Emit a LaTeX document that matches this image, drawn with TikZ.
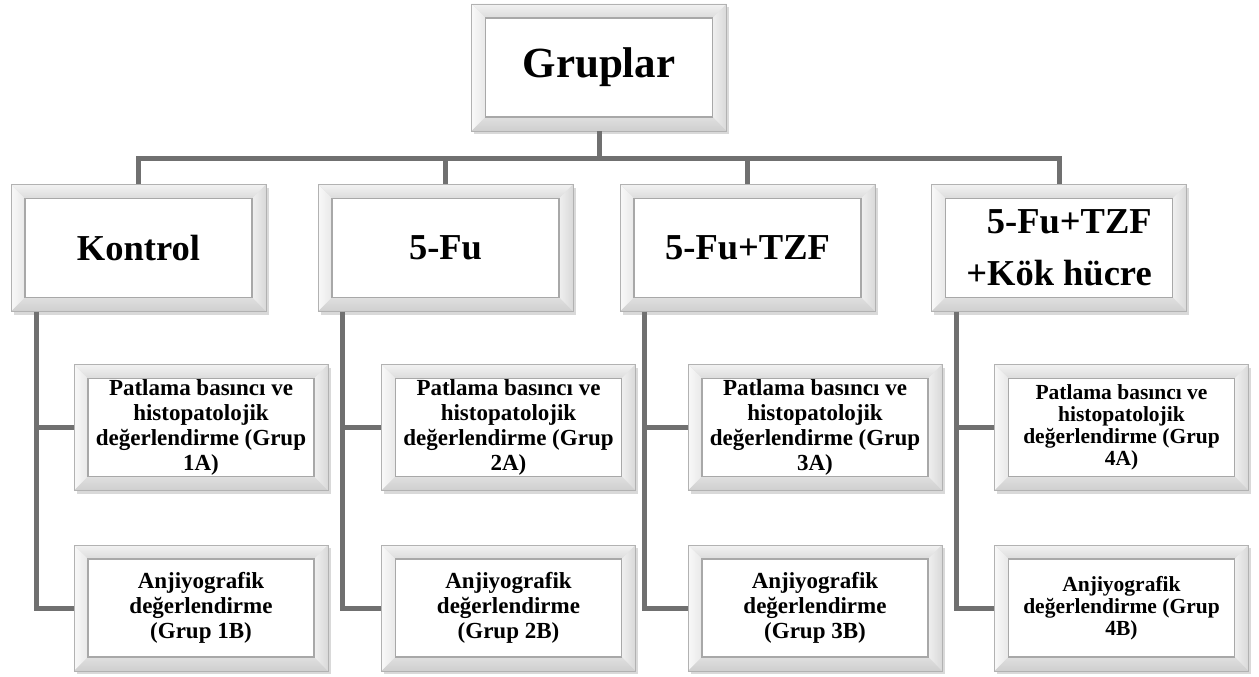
\documentclass[tikz,border=0pt]{standalone}
\usepackage{fontspec}
\setmainfont{Liberation Serif}
\usetikzlibrary{shadows}
\definecolor{linkgray}{RGB}{112,112,112}
\tikzset{
    bevelbox/.style={rectangle, draw=gray!60, line width=0.8pt, fill=gray!22,
        minimum width=255pt, minimum height=127pt, inner sep=0pt, align=center,
        drop shadow={shadow xshift=2.5pt, shadow yshift=-3pt, opacity=0.3},
        path picture={
            \path (path picture bounding box.north west) coordinate (A)
                  (path picture bounding box.north east) coordinate (B)
                  (path picture bounding box.south east) coordinate (C)
                  (path picture bounding box.south west) coordinate (D);
            \path ([shift={(14pt,-14pt)}]A) coordinate (a)
                  ([shift={(-14pt,-14pt)}]B) coordinate (b)
                  ([shift={(-14pt,14pt)}]C) coordinate (c)
                  ([shift={(14pt,14pt)}]D) coordinate (d);
            \fill[top color=gray!10, bottom color=gray!28] (A) -- (B) -- (b) -- (a) -- cycle;
            \fill[left color=gray!5, right color=gray!18] (D) -- (A) -- (a) -- (d) -- cycle;
            \fill[left color=gray!12, right color=gray!30] (B) -- (C) -- (c) -- (b) -- cycle;
            \fill[top color=gray!25, bottom color=gray!38] (C) -- (D) -- (d) -- (c) -- cycle;
            \filldraw[fill=white, draw=gray!68, line width=1.6pt] (a) rectangle (c);
        }},
    topbox/.style={bevelbox, font=\bfseries\fontsize{43}{46}\selectfont},
    grpbox/.style={bevelbox, font=\bfseries\fontsize{36.5}{52}\selectfont},
    subbox/.style={bevelbox, minimum width=254pt, minimum height=126pt,
        font=\bfseries\fontsize{23}{25}\selectfont},
    smallsub/.style={subbox, font=\bfseries\fontsize{21.5}{22}\selectfont},
    link/.style={draw=linkgray, line width=5pt},
}
\begin{document}
\begin{tikzpicture}[x=1pt, y=-1pt]
\useasboundingbox (0,0) rectangle (1259,677);
% top
\node[topbox] (root) at (599,67.5) {Gruplar};
% groups
\node[grpbox] (g1) at (138.5,248) {Kontrol};
\node[grpbox] (g2) at (445.5,248) {5-Fu};
\node[grpbox] (g3) at (747.5,248) {5-Fu+TZF};
\node[grpbox, align=right] (g4) at (1059,248) {5-Fu+TZF\\+Kök hücre};
% sub groups
\node[subbox] (g1a) at (201,427.5) {Patlama basıncı ve\\histopatolojik\\değerlendirme (Grup\\1A)};
\node[subbox] (g1b) at (201,608) {Anjiyografik\\değerlendirme\\(Grup 1B)};
\node[subbox] (g2a) at (508.5,427.5) {Patlama basıncı ve\\histopatolojik\\değerlendirme (Grup\\2A)};
\node[subbox] (g2b) at (508.5,608) {Anjiyografik\\değerlendirme\\(Grup 2B)};
\node[subbox] (g3a) at (815,427.5) {Patlama basıncı ve\\histopatolojik\\değerlendirme (Grup\\3A)};
\node[subbox] (g3b) at (815,608) {Anjiyografik\\değerlendirme\\(Grup 3B)};
\node[smallsub] (g4a) at (1121.5,427.5) {Patlama basıncı ve\\histopatolojik\\değerlendirme (Grup\\4A)};
\node[smallsub] (g4b) at (1121.5,608) {Anjiyografik\\değerlendirme (Grup\\4B)};
% connectors
\draw[link] (root.south) -- ++(0,-27pt) -| (g1.north);
\draw[link] (root.south) -- ++(0,-27pt) -| (g2.north);
\draw[link] (root.south) -- ++(0,-27pt) -| (g3.north);
\draw[link] (root.south) -- ++(0,-27pt) -| (g4.north);
\draw[link] ([xshift=26pt]g1.south west) |- (g1a.west);
\draw[link] ([xshift=26pt]g1.south west) |- (g1b.west);
\draw[link] ([xshift=25pt]g2.south west) |- (g2a.west);
\draw[link] ([xshift=25pt]g2.south west) |- (g2b.west);
\draw[link] ([xshift=25pt]g3.south west) |- (g3a.west);
\draw[link] ([xshift=25pt]g3.south west) |- (g3b.west);
\draw[link] ([xshift=25pt]g4.south west) |- (g4a.west);
\draw[link] ([xshift=25pt]g4.south west) |- (g4b.west);
\end{tikzpicture}
\end{document}
